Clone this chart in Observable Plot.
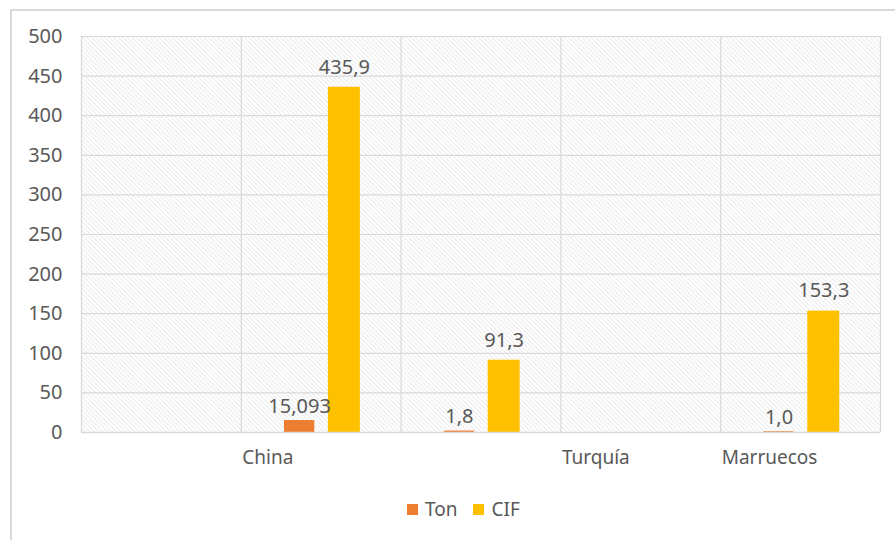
<!DOCTYPE html>
<html>
<head>
<meta charset="utf-8">
<script src="https://cdn.jsdelivr.net/npm/d3@7"></script>
<script src="https://cdn.jsdelivr.net/npm/@observablehq/plot@0.6"></script>
<style>
  html, body { margin: 0; padding: 0; background: #fff; }
  body { width: 895px; height: 540px; position: relative; overflow: hidden; font-family: "Noto Sans", "Open Sans", sans-serif; }
  #border { position: absolute; left: 10px; top: 9px; width: 900px; height: 560px; border: 2px solid #d9d9d9; box-sizing: border-box; }
  #chart { position: absolute; left: 0; top: 0; }
  #legend { position: absolute; top: 496px; left: 407px; display: flex; align-items: center; font-size: 19px; color: #595959; }
  #legend .sw { width: 11px; height: 11px; display: inline-block; margin-right: 7px; }
  #legend .item { display: flex; align-items: center; margin-right: 16px; }
</style>
</head>
<body>
<div id="border"></div>
<div id="chart"></div>
<div id="legend"></div>
<script>
// ---- data ----
const slots = [0, 1, 2, 3, 4];
const categories = ["China", "Turquía", "Marruecos"];
const barSlot = [1, 2, 4];      // slot holding each country's bars
const labelSlot = [1, 3, 4];    // slot where each country's axis label appears
const series = ["Ton", "CIF"];
const ton = [15.093, 1.8, 1.0];
const cif = [435.9, 91.3, 153.3];
const tonLabels = ["15,093", "1,8", "1,0"];
const cifLabels = ["435,9", "91,3", "153,3"];
const yTicks = [0, 50, 100, 150, 200, 250, 300, 350, 400, 450, 500];
const colors = ["#ED7D31", "#FFC000"];

// ---- table ----
const rows = [];
categories.forEach((c, i) => {
  rows.push({country: c, slot: barSlot[i], series: "Ton", value: ton[i], label: tonLabels[i]});
  rows.push({country: c, slot: barSlot[i], series: "CIF", value: cif[i], label: cifLabels[i]});
});
const labelRows = categories.map((c, i) => ({country: c, slot: labelSlot[i]}));

// bar placement inside a slot (fractions of slot width)
const place = {Ton: [0.27, 0.46], CIF: [0.545, 0.745]};
const mid = s => (place[s][0] + place[s][1]) / 2;
const labelOffset = {Ton: -14, CIF: -20};

const textColor = "#595959";
const gridColor = "#d9d9d9";

const plot = Plot.plot({
  width: 895,
  height: 480,
  marginLeft: 81,
  marginRight: 15,
  marginTop: 36,
  marginBottom: 48,
  style: {fontFamily: "'Noto Sans', 'Open Sans', sans-serif", fontSize: "19px", color: textColor, background: "transparent", overflow: "visible"},
  x: {domain: [0, slots.length], axis: null},
  y: {domain: [0, 500], ticks: yTicks, axis: null, label: null},
  color: {domain: series, range: colors},
  marks: [
    Plot.frame({fill: "url(#hatch)", stroke: null}),
    Plot.gridY(yTicks, {stroke: gridColor, strokeOpacity: 1, strokeWidth: 1.2}),
    Plot.ruleX([...slots, slots.length], {stroke: gridColor, strokeWidth: 1.2}),
    Plot.axisY(yTicks, {tickSize: 0, tickPadding: 19, fontSize: 20, fill: textColor, label: null, tickFormat: d => String(d)}),
    Plot.rectY(rows, {
      x1: d => d.slot + place[d.series][0],
      x2: d => d.slot + place[d.series][1],
      y1: 0,
      y2: "value",
      fill: "series"
    }),
    Plot.text(rows.filter(d => d.series === "Ton"), {
      x: d => d.slot + mid(d.series),
      y: "value",
      text: "label",
      dy: labelOffset.Ton,
      fontSize: 20,
      fill: textColor
    }),
    Plot.text(rows.filter(d => d.series === "CIF"), {
      x: d => d.slot + mid(d.series),
      y: "value",
      text: "label",
      dy: labelOffset.CIF,
      fontSize: 20,
      fill: textColor
    }),
    Plot.ruleY([0], {stroke: gridColor, strokeWidth: 1.5}),
    Plot.text(labelRows, {
      x: "slot",
      text: "country",
      frameAnchor: "bottom",
      textAnchor: "start",
      dx: 1,
      dy: 31,
      fontSize: 19,
      fill: textColor
    })
  ]
});

// hatch pattern for the plot area
const svg = d3.select(plot);
const defs = svg.insert("defs", ":first-child");
const pat = defs.append("pattern")
  .attr("id", "hatch")
  .attr("patternUnits", "userSpaceOnUse")
  .attr("width", 4.5)
  .attr("height", 4.5);
pat.append("rect").attr("width", 4.5).attr("height", 4.5).attr("fill", "#ffffff");
pat.append("path")
  .attr("d", "M-1,-1 L5.5,5.5 M-1,3.5 L1,5.5 M3.5,-1 L5.5,1")
  .attr("stroke", "#e0e0e0")
  .attr("stroke-width", 0.9);

document.getElementById("chart").appendChild(plot);

// legend
const legend = d3.select("#legend");
series.forEach((s, i) => {
  const it = legend.append("div").attr("class", "item");
  it.append("span").attr("class", "sw").style("background", colors[i]);
  it.append("span").text(s);
});
</script>
</body>
</html>
